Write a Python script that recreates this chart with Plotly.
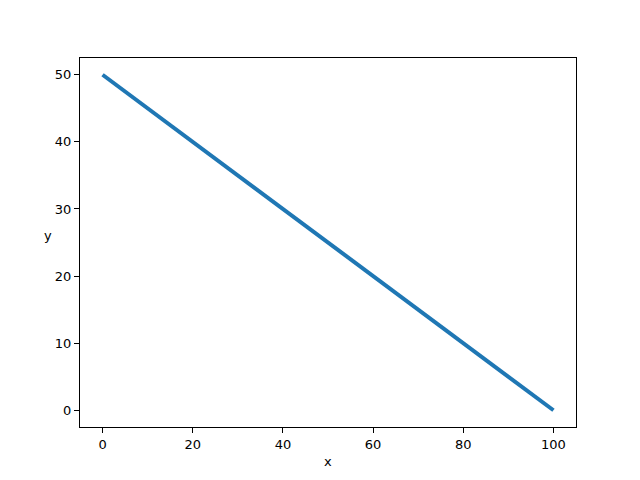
import plotly.graph_objects as go

x_vals = [0, 100]
y_vals = [50, 0]
x_ticks = [0, 20, 40, 60, 80, 100]
y_ticks = [0, 10, 20, 30, 40, 50]

fig = go.Figure()
fig.add_trace(go.Scatter(x=x_vals, y=y_vals, mode="lines",
                         line=dict(color="#1f77b4", width=4), showlegend=False))

axis_style = dict(showgrid=False, zeroline=False, showline=True, linecolor="black",
                  linewidth=1, mirror=True, ticks="outside", ticklen=5, tickwidth=1,
                  tickcolor="black", tickfont=dict(family="DejaVu Sans", size=13, color="black"))

fig.update_xaxes(range=[-5, 105], tickvals=x_ticks, **axis_style)
fig.update_yaxes(range=[-2.5, 52.5], tickvals=y_ticks, **axis_style)

fig.add_annotation(text="x", xref="paper", yref="paper", x=0.5, y=-0.068,
                   showarrow=False, yanchor="top",
                   font=dict(family="DejaVu Sans", size=13, color="black"))
fig.add_annotation(text="y", xref="paper", yref="paper", x=-0.052, y=0.52,
                   showarrow=False, xanchor="right",
                   font=dict(family="DejaVu Sans", size=13, color="black"))

# page body adds an 8px offset, so margins are shifted to compensate
fig.update_layout(width=640, height=480, margin=dict(l=72, r=72, t=50, b=61),
                  paper_bgcolor="white", plot_bgcolor="white")

fig.write_html("out.html")
